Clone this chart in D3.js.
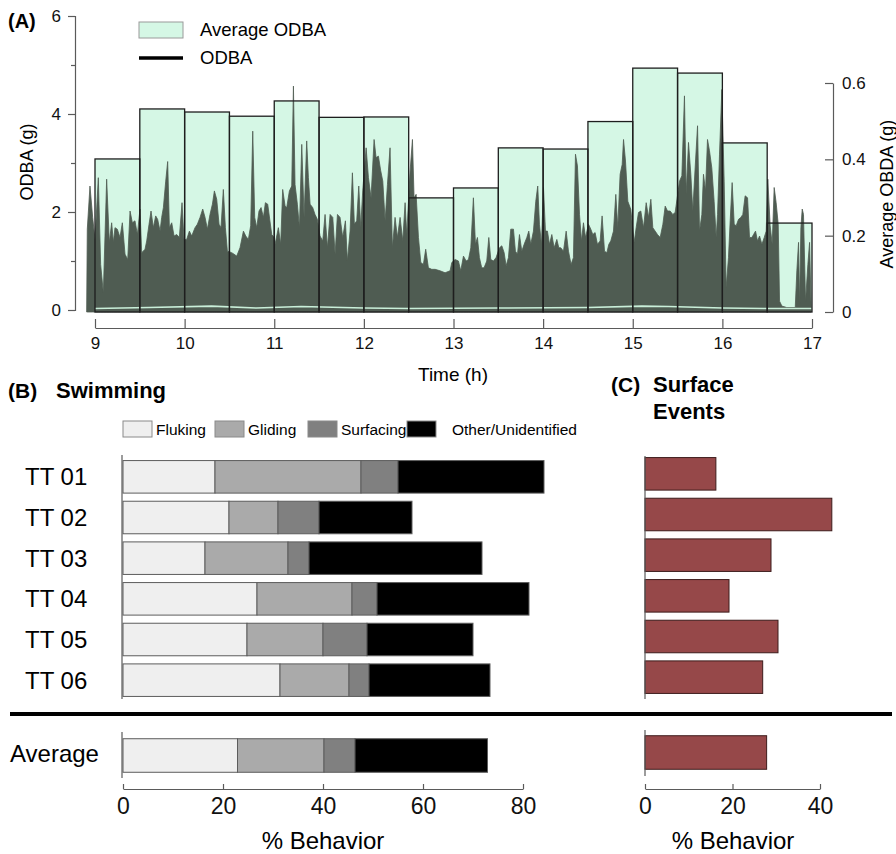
<!DOCTYPE html>
<html>
<head>
<meta charset="utf-8">
<script src="https://cdnjs.cloudflare.com/ajax/libs/d3/7.8.5/d3.min.js"></script>
<style>
  body { margin: 0; background: #fff; }
  svg { display: block; font-family: "Liberation Sans", Arial, sans-serif; }
</style>
</head>
<body>
<div id="chart"></div>
<script>
// ---- panel A data ----
const hourTicks = [9, 10, 11, 12, 13, 14, 15, 16, 17]
const binStarts = [9, 9.5, 10, 10.5, 11, 11.5, 12, 12.5, 13, 13.5, 14, 14.5, 15, 15.5, 16, 16.5]
const avgOdba = [0.401, 0.532, 0.524, 0.513, 0.553, 0.510, 0.511, 0.299, 0.325, 0.430, 0.427, 0.499, 0.639, 0.626, 0.443, 0.233]

// ODBA trace, [hour, g]
const odbaTrace = [
  [8.907,0],[8.914,1.65],[8.944,2.53],[8.974,1.89],[9.000,1.44],[9.037,2.70],[9.063,0.93],[9.093,0.35],
  [9.130,2.67],[9.160,1.38],[9.186,1.78],[9.205,1.38],[9.223,1.68],[9.249,1.65],[9.279,1.48],[9.305,1.78],
  [9.335,1.14],[9.365,1.03],[9.391,2.02],[9.417,1.78],[9.446,1.82],[9.473,1.54],[9.502,2.06],[9.521,1.17],
  [9.558,1.24],[9.577,1.41],[9.603,1.75],[9.625,2.02],[9.651,1.68],[9.677,1.92],[9.699,1.85],[9.726,1.61],
  [9.744,1.89],[9.763,2.09],[9.789,2.63],[9.811,3.03],[9.830,1.68],[9.856,1.78],[9.882,1.51],[9.912,1.54],
  [9.941,1.48],[9.971,2.19],[9.993,1.44],[10.023,1.44],[10.053,1.61],[10.079,1.51],[10.116,1.68],[10.142,1.75],
  [10.172,1.89],[10.202,2.06],[10.228,1.89],[10.254,1.65],[10.283,1.95],[10.310,2.16],[10.332,2.43],[10.358,2.26],
  [10.384,1.75],[10.406,1.68],[10.432,2.46],[10.455,1.68],[10.477,1.20],[10.525,1.17],[10.551,1.14],[10.581,1.10],
  [10.618,1.27],[10.656,1.61],[10.682,1.51],[10.711,1.44],[10.737,1.72],[10.760,3.65],[10.782,1.89],[10.804,1.68],
  [10.830,2.02],[10.853,2.09],[10.879,1.89],[10.901,2.19],[10.927,2.16],[10.972,1.54],[10.998,1.48],[11.009,1.34],
  [11.046,1.68],[11.072,1.34],[11.094,2.46],[11.121,2.12],[11.139,2.09],[11.169,2.43],[11.195,2.53],[11.214,4.57],
  [11.232,2.56],[11.258,2.16],[11.281,1.68],[11.307,3.38],[11.333,1.89],[11.362,3.45],[11.381,2.70],[11.400,2.16],
  [11.429,2.09],[11.455,1.95],[11.481,1.85],[11.511,1.51],[11.541,1.41],[11.567,1.95],[11.593,1.27],[11.623,1.95],
  [11.653,1.89],[11.679,1.14],[11.705,1.95],[11.734,1.89],[11.764,1.48],[11.794,1.82],[11.816,1.00],[11.846,1.61],
  [11.872,2.80],[11.894,1.75],[11.920,1.82],[11.943,2.53],[11.965,1.68],[11.987,2.43],[12.025,3.31],[12.051,2.70],
  [12.080,2.29],[12.114,3.48],[12.136,3.11],[12.162,3.14],[12.188,2.84],[12.211,2.63],[12.237,1.82],[12.263,2.56],
  [12.292,3.31],[12.318,1.27],[12.348,1.89],[12.374,1.48],[12.404,1.89],[12.434,1.41],[12.460,2.19],[12.478,1.54],
  [12.516,2.84],[12.542,3.48],[12.560,2.29],[12.583,2.36],[12.609,1.48],[12.635,0.97],[12.664,0.93],[12.690,1.24],
  [12.720,0.86],[12.757,0.83],[12.795,0.83],[12.850,0.80],[12.906,0.76],[12.962,0.80],[12.981,0.97],[13.018,1.03],
  [13.055,1.00],[13.081,0.80],[13.111,1.10],[13.141,1.00],[13.167,1.03],[13.193,1.27],[13.222,2.29],[13.245,1.34],
  [13.267,1.48],[13.289,1.07],[13.315,0.86],[13.341,0.86],[13.371,1.00],[13.394,1.48],[13.416,1.03],[13.446,1.00],
  [13.475,1.07],[13.513,1.27],[13.539,1.31],[13.565,1.17],[13.587,0.90],[13.613,1.07],[13.639,1.65],[13.669,1.65],
  [13.691,1.20],[13.714,1.14],[13.736,1.54],[13.762,1.20],[13.788,1.34],[13.818,1.48],[13.840,1.61],[13.862,1.34],
  [13.892,1.61],[13.918,2.22],[13.940,2.53],[13.959,1.75],[13.981,1.34],[14.004,2.50],[14.026,1.61],[14.048,1.61],
  [14.071,1.34],[14.097,1.54],[14.123,1.27],[14.153,1.44],[14.175,1.27],[14.197,1.27],[14.227,1.20],[14.257,1.61],
  [14.283,1.20],[14.312,0.93],[14.338,1.07],[14.361,3.18],[14.383,2.94],[14.406,1.95],[14.428,1.41],[14.450,1.78],
  [14.473,1.48],[14.506,1.75],[14.532,1.65],[14.554,1.54],[14.580,1.58],[14.606,1.34],[14.636,1.41],[14.658,1.92],
  [14.685,1.20],[14.711,1.17],[14.733,1.34],[14.755,1.41],[14.785,1.61],[14.811,2.36],[14.833,1.68],[14.859,2.77],
  [14.882,2.97],[14.897,3.48],[14.919,3.04],[14.945,2.22],[14.971,2.09],[14.978,2.06],[15.016,1.38],[15.038,1.68],
  [15.064,1.99],[15.090,2.02],[15.120,1.68],[15.150,2.19],[15.176,1.89],[15.202,2.26],[15.224,1.68],[15.250,1.61],
  [15.276,1.54],[15.306,1.48],[15.336,1.75],[15.362,2.12],[15.388,2.02],[15.417,2.02],[15.447,1.95],[15.473,1.99],
  [15.522,2.63],[15.548,2.74],[15.577,4.37],[15.596,2.36],[15.622,3.42],[15.648,2.77],[15.670,2.02],[15.696,2.90],
  [15.723,3.76],[15.745,1.61],[15.771,1.95],[15.789,2.77],[15.812,2.43],[15.834,3.48],[15.856,3.25],[15.882,2.90],
  [15.908,2.22],[15.931,1.48],[15.946,1.95],[15.968,3.18],[15.994,4.50],[16.020,2.63],[16.042,0.46],[16.068,1.07],
  [16.087,1.82],[16.109,2.60],[16.132,1.75],[16.154,1.72],[16.180,1.85],[16.206,1.89],[16.228,1.95],[16.254,2.33],
  [16.281,2.29],[16.303,1.48],[16.329,1.48],[16.348,1.54],[16.370,1.61],[16.392,1.41],[16.415,1.51],[16.441,1.34],
  [16.467,1.48],[16.489,1.61],[16.507,2.67],[16.533,1.72],[16.556,1.34],[16.578,2.50],[16.600,2.19],[16.623,1.75],
  [16.638,0.18],[16.664,0.08],[16.719,0.05],[16.813,0.05],[16.831,0.80],[16.850,1.38],[16.861,0.12],[16.876,1.68],
  [16.891,2.06],[16.905,1.95],[16.928,0.18],[16.954,0.93],[16.973,1.38],[16.991,0]
]
// faint minimum trace along the floor
const odbaFloor = [[9,0.03],[9.6,0.05],[10.3,0.08],[10.8,0.04],[11.3,0.07],[12,0.04],[12.5,0.03],[13.5,0.04],[14.5,0.05],[15.1,0.08],[15.4,0.07],[16,0.04],[16.5,0.03],[17,0.03]]

// ---- panel B / C data ----
const subjects = ["TT 01", "TT 02", "TT 03", "TT 04", "TT 05", "TT 06"]
const behaviours = ["Fluking", "Gliding", "Surfacing", "Other/Unidentified"]
const fluking = [18.4, 21.2, 16.4, 26.8, 24.8, 31.4]
const gliding = [29.2, 9.8, 16.6, 19.0, 15.2, 13.8]
const surfacing = [7.4, 8.2, 4.2, 5.0, 8.8, 4.0]
const other = [29.2, 18.6, 34.6, 30.4, 21.2, 24.2]
const average = [22.9, 17.3, 6.2, 26.5]
const surfaceEvents = [16.2, 42.7, 28.8, 19.2, 30.4, 26.9]
const surfaceAverage = 27.8
const behaviourTicks = [0, 20, 40, 60, 80]
const surfaceTicks = [0, 20, 40]

const W = 896, H = 854
const svg = d3.select('#chart').append('svg')
  .attr('width', W).attr('height', H)

const axisGrey = '#5a5a5a'
const mint = '#d5f7e5'
const fontFamily = '"Liberation Sans", Arial, sans-serif'

// ================= panel A =================
const x = d3.scaleLinear().domain([9, 17]).range([95, 812])
const yL = d3.scaleLinear().domain([0, 6]).range([310, 16])
const yR = d3.scaleLinear().domain([0, 0.6]).range([312, 83])

// bar fills
svg.append('g')
  .selectAll('rect')
  .data(binStarts)
  .join('rect')
    .attr('x', (d) => x(d))
    .attr('y', (d, i) => yR(avgOdba[i]))
    .attr('width', (d) => x(d + 0.5) - x(d))
    .attr('height', (d, i) => yR(0) - yR(avgOdba[i]))
    .attr('fill', mint)

// ODBA trace
const area = d3.area()
  .x(d => x(d[0]))
  .y0(yL(0) + 2)
  .y1(d => yL(d[1]))
svg.append('path')
  .datum(odbaTrace)
  .attr('d', area)
  .attr('fill', '#4f5c52')
  .attr('stroke', '#4f5c52')
  .attr('stroke-width', 0.8)

svg.append('path')
  .datum(odbaFloor)
  .attr('d', d3.line().x(d => x(d[0])).y(d => yL(d[1])))
  .attr('fill', 'none')
  .attr('stroke', '#c9efd9')
  .attr('stroke-width', 1.6)

// bar outlines on top
svg.append('g')
  .selectAll('rect')
  .data(binStarts)
  .join('rect')
    .attr('x', (d) => x(d))
    .attr('y', (d, i) => yR(avgOdba[i]))
    .attr('width', (d) => x(d + 0.5) - x(d))
    .attr('height', (d, i) => yR(0) - yR(avgOdba[i]))
    .attr('fill', 'none')
    .attr('stroke', '#1e1e1e')
    .attr('stroke-width', 1.3)

// left axis
const axesA = svg.append('g')
axesA.append('g')
  .attr('transform', 'translate(75,0)')
  .call(d3.axisLeft(yL).tickValues([0, 2, 4, 6]).tickSize(7).tickPadding(7).tickFormat(d3.format('d')))
axesA.append('g')
  .attr('transform', 'translate(75,0)')
  .call(d3.axisLeft(yL).tickValues([1, 3, 5]).tickSize(4).tickFormat(''))
  .call(g => g.select('.domain').remove())

// right axis
const rightAxis = axesA.append('g')
  .attr('transform', 'translate(833,0)')
  .call(d3.axisRight(yR).tickValues([0, 0.2, 0.4, 0.6]).tickSize(0).tickPadding(9).tickFormat(d => d === 0 ? '0' : d3.format('.1f')(d)))
rightAxis.selectAll('.tick line').attr('x2', -8)

// bottom axis
const bottomAxis = axesA.append('g')
  .attr('transform', 'translate(0,328)')
  .call(d3.axisBottom(x).tickValues(hourTicks).tickSize(0).tickPadding(9))
bottomAxis.selectAll('.tick line').attr('y2', -9)

axesA.selectAll('.domain, .tick line').attr('stroke', axisGrey).attr('stroke-width', 1.2)
axesA.selectAll('.tick text').attr('font-size', 17).attr('fill', '#111').attr('font-family', fontFamily)

svg.append('text').attr('x', 453).attr('y', 381).attr('text-anchor', 'middle')
  .attr('font-size', 19).text('Time (h)')
svg.append('text').attr('transform', 'translate(33,162) rotate(-90)').attr('text-anchor', 'middle')
  .attr('font-size', 18).text('ODBA (g)')
svg.append('text').attr('transform', 'translate(893,194) rotate(-90)').attr('text-anchor', 'middle')
  .attr('font-size', 18).text('Average OBDA (g)')
svg.append('text').attr('x', 8).attr('y', 28).attr('font-size', 20).attr('font-weight', 'bold').text('(A)')

// legend A
svg.append('rect').attr('x', 139).attr('y', 22).attr('width', 44).attr('height', 16)
  .attr('fill', mint).attr('stroke', '#9a9a9a')
svg.append('text').attr('x', 200).attr('y', 36).attr('font-size', 18.5).text('Average ODBA')
svg.append('line').attr('x1', 139).attr('x2', 183).attr('y1', 58).attr('y2', 58)
  .attr('stroke', '#000').attr('stroke-width', 3.5)
svg.append('text').attr('x', 200).attr('y', 64).attr('font-size', 18.5).text('ODBA')

// ================= panel B =================
const xB = d3.scaleLinear().domain([0, 80]).range([123, 523])
const yB = d3.scaleBand().domain(subjects).range([456.5, 700.5]).paddingInner(0.2).paddingOuter(0.1)
const greys = d3.scaleOrdinal().domain(behaviours).range(['#efefef', '#aaaaaa', '#808080', '#000000'])

const swimRows = subjects.map((s, i) => ({
  subject: s, Fluking: fluking[i], Gliding: gliding[i], Surfacing: surfacing[i], 'Other/Unidentified': other[i]
}))
const stacked = d3.stack().keys(behaviours)(swimRows)

svg.append('g')
  .selectAll('g')
  .data(stacked)
  .join('g')
    .attr('fill', d => greys(d.key))
  .selectAll('rect')
  .data(d => d)
  .join('rect')
    .attr('x', d => xB(d[0]))
    .attr('y', d => yB(d.data.subject))
    .attr('width', d => xB(d[1]) - xB(d[0]))
    .attr('height', yB.bandwidth())
    .attr('stroke', '#5c5c5c')
    .attr('stroke-width', 1)

svg.append('g')
  .selectAll('text')
  .data(subjects)
  .join('text')
    .attr('x', 25)
    .attr('y', d => yB(d) + yB.bandwidth() / 2 + 8.5)
    .attr('font-size', 24)
    .text(d => d)

svg.append('line').attr('x1', 122).attr('x2', 122).attr('y1', 455).attr('y2', 699)
  .attr('stroke', axisGrey).attr('stroke-width', 1.2)

// average row
const avgRow = [{subject: 'Average', Fluking: average[0], Gliding: average[1], Surfacing: average[2], 'Other/Unidentified': average[3]}]
const avgStacked = d3.stack().keys(behaviours)(avgRow)
const yAvg = d3.scaleBand().domain(['Average']).range([735, 776]).padding(0.1)
svg.append('g')
  .selectAll('rect')
  .data(avgStacked)
  .join('rect')
    .attr('fill', d => greys(d.key))
    .attr('x', d => xB(d[0][0]))
    .attr('y', yAvg('Average'))
    .attr('width', d => xB(d[0][1]) - xB(d[0][0]))
    .attr('height', yAvg.bandwidth())
    .attr('stroke', '#5c5c5c')
    .attr('stroke-width', 1)
svg.append('text').attr('x', 10).attr('y', yAvg('Average') + yAvg.bandwidth() / 2 + 6)
  .attr('font-size', 24).text('Average')
svg.append('line').attr('x1', 122).attr('x2', 122).attr('y1', 732).attr('y2', 778)
  .attr('stroke', axisGrey).attr('stroke-width', 1.2)

const axisB = svg.append('g')
  .attr('transform', 'translate(0,789)')
  .call(d3.axisBottom(xB).tickValues(behaviourTicks).tickSize(0).tickPadding(9))
axisB.selectAll('.tick line').attr('y2', -5)
svg.append('text').attr('x', 323).attr('y', 849).attr('text-anchor', 'middle')
  .attr('font-size', 24).text('% Behavior')

// legend B
const legendX = [123, 215, 308, 407]
const legend = svg.append('g')
  .selectAll('g')
  .data(behaviours)
  .join('g')
    .attr('transform', (d, i) => `translate(${legendX[i]},421)`)
legend.append('rect').attr('width', 29).attr('height', 16)
  .attr('fill', d => greys(d)).attr('stroke', '#8a8a8a')
legend.append('text').attr('x', (d, i) => i === 3 ? 45 : 33).attr('y', 14)
  .attr('font-size', 15.5).text(d => d)

svg.append('text').attr('x', 8).attr('y', 398).attr('font-size', 21).attr('font-weight', 'bold').text('(B)')
svg.append('text').attr('x', 56).attr('y', 398).attr('font-size', 22).attr('font-weight', 'bold').text('Swimming')

// ================= panel C =================
const xC = d3.scaleLinear().domain([0, 40]).range([645, 820])
const yC = d3.scaleBand().domain(subjects).range([453.5, 697.5]).paddingInner(0.2).paddingOuter(0.1)

svg.append('g')
  .selectAll('rect')
  .data(surfaceEvents)
  .join('rect')
    .attr('x', xC(0))
    .attr('y', (d, i) => yC(subjects[i]))
    .attr('width', d => xC(d) - xC(0))
    .attr('height', yC.bandwidth())
    .attr('fill', '#964849')
    .attr('stroke', '#3d1c1c')
    .attr('stroke-width', 1)
svg.append('line').attr('x1', 645).attr('x2', 645).attr('y1', 456).attr('y2', 699)
  .attr('stroke', axisGrey).attr('stroke-width', 1.2)

svg.append('rect')
  .attr('x', xC(0)).attr('y', yAvg('Average') - 3)
  .attr('width', xC(surfaceAverage) - xC(0)).attr('height', yAvg.bandwidth())
  .attr('fill', '#964849').attr('stroke', '#3d1c1c').attr('stroke-width', 1)
svg.append('line').attr('x1', 645).attr('x2', 645).attr('y1', 730).attr('y2', 776)
  .attr('stroke', axisGrey).attr('stroke-width', 1.2)

const axisC = svg.append('g')
  .attr('transform', 'translate(0,789)')
  .call(d3.axisBottom(xC).tickValues(surfaceTicks).tickSize(0).tickPadding(9))
axisC.selectAll('.tick line').attr('y2', -5)
svg.append('text').attr('x', 733).attr('y', 849).attr('text-anchor', 'middle')
  .attr('font-size', 24).text('% Behavior')

svg.append('text').attr('x', 611).attr('y', 392).attr('font-size', 21).attr('font-weight', 'bold').text('(C)')
svg.append('text').attr('x', 653).attr('y', 392).attr('font-size', 22).attr('font-weight', 'bold').text('Surface')
svg.append('text').attr('x', 653).attr('y', 419).attr('font-size', 22).attr('font-weight', 'bold').text('Events')

// bottom axes styling
;[axisB, axisC].forEach(g => {
  g.selectAll('.domain, .tick line').attr('stroke', axisGrey).attr('stroke-width', 1.2)
  g.selectAll('.tick text').attr('font-size', 23).attr('fill', '#111').attr('font-family', fontFamily)
})

// separator
svg.append('line').attr('x1', 10).attr('x2', 892).attr('y1', 714).attr('y2', 714)
  .attr('stroke', '#000').attr('stroke-width', 4)
</script>
</body>
</html>
